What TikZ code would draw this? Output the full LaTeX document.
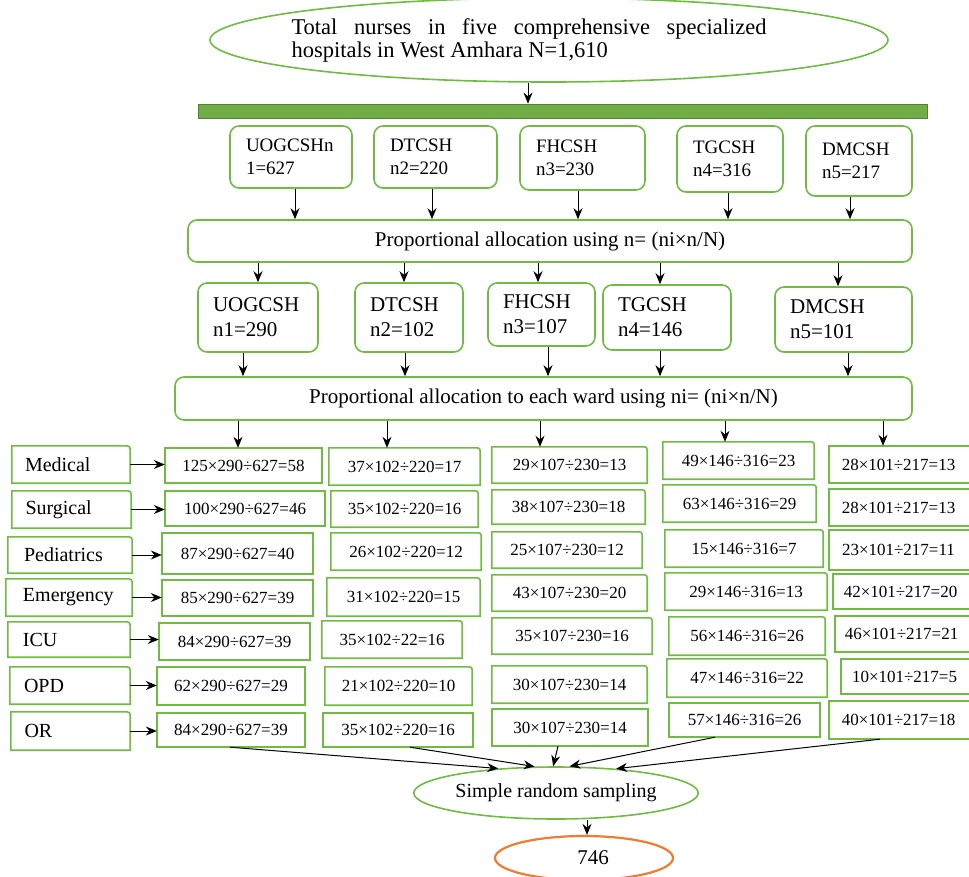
\documentclass[tikz,border=0pt]{standalone}
\usepackage{fontspec}
\setmainfont{Liberation Serif}
\usetikzlibrary{shapes.geometric,arrows.meta}
\definecolor{gbd}{RGB}{112,188,66}
\definecolor{barfill}{RGB}{112,173,71}
\definecolor{bardraw}{RGB}{84,130,53}
\definecolor{org}{RGB}{237,125,49}
\newcommand{\cbox}[8]{%
  \node[#8, minimum width={(#4-#2)*1pt}, minimum height={(#5-#3)*1pt}] (#1) at ({(#2+#4)/2},{(#3+#5)/2}) {#7};
  \draw[cellline] (#1.south west) -- (#1.north west) -- ([xshift=-#6pt]#1.north east) .. controls (#1.north east) .. ([yshift=-#6pt]#1.north east) -- (#1.south east) -- cycle;
}
\begin{document}
\begin{tikzpicture}[x=1pt,y=-1pt,
  cellline/.style={draw=gbd, line width=1.6pt},
  hbox/.style={draw=gbd, line width=1.6pt, rounded corners=9pt, align=left, inner xsep=16pt, inner ysep=0pt},
  rowone/.style={hbox, font=\fontsize{19pt}{23pt}\selectfont},
  rowtwo/.style={hbox, inner xsep=15pt, font=\fontsize{21pt}{25pt}\selectfont},
  propbox/.style={draw=gbd, line width=1.6pt, rounded corners=9pt, inner sep=0pt, font=\fontsize{21pt}{24pt}\selectfont},
  wlabel/.style={font=\fontsize{20pt}{22pt}\selectfont, text width=92pt, align=left, inner sep=0pt},
  calc/.style={font=\fontsize{17pt}{19pt}\selectfont, inner sep=0pt},
  oval/.style={ellipse, draw=gbd, line width=1.6pt, inner sep=0pt},
  arr/.style={-{Stealth[length=11pt,width=9pt]}, line width=1pt, black},
  bar/.style={draw=bardraw, fill=barfill, line width=0.8pt, inner sep=0pt}
]
\useasboundingbox (0,0) rectangle (969,876);

% top
\node[oval, minimum width=678pt, minimum height=84pt, font=\fontsize{22.5pt}{23pt}\selectfont] (top) at (549,40)
  {\makebox[0pt][c]{\parbox{475pt}{Total nurses in five comprehensive specialized\linebreak hospitals in West Amhara N=1,610}\hspace*{40pt}}};
\node[bar, minimum width=729pt, minimum height=14pt] (bar) at (562.5,111) {};
\draw[arr] (528,0 |- top.south) -- (528,0 |- bar.north);

% row 1
\node[rowone, text width=90pt, minimum height=62pt] (h1) at (291,157) {UOGCSHn\\1=627};
\node[rowone, text width=91pt, minimum height=62pt] (h2) at (435.5,157) {DTCSH\\n2=220};
\node[rowone, text width=93pt, minimum height=64pt] (h3) at (582.5,158) {FHCSH\\n3=230};
\node[rowone, text width=74pt, minimum height=66pt] (h4) at (730,159) {TGCSH\\n4=316};
\node[rowone, text width=74pt, minimum height=70pt] (h5) at (859,161) {DMCSH\\n5=217};

\node[propbox, minimum width=724pt, minimum height=42pt] (p1) at (550,241)
  {Proportional allocation using n= (ni×n/N)};

\draw[arr] (295,0 |- h1.south) -- (295,0 |- p1.north);
\draw[arr] (432,0 |- h2.south) -- (432,0 |- p1.north);
\draw[arr] (578,0 |- h3.south) -- (578,0 |- p1.north);
\draw[arr] (728,0 |- h4.south) -- (728,0 |- p1.north);
\draw[arr] (850,0 |- h5.south) -- (850,0 |- p1.north);

% row 2
\node[rowtwo, text width=90pt, minimum height=69pt] (r1) at (258,317.5) {UOGCSH\\n1=290};
\node[rowtwo, text width=78pt, minimum height=69pt] (r2) at (409,317.5) {DTCSH\\n2=102};
\node[rowtwo, text width=77pt, minimum height=63pt] (r3) at (541.5,314.5) {FHCSH\\n3=107};
\node[rowtwo, text width=98pt, minimum height=65pt] (r4) at (667,317.5) {TGCSH\\n4=146};
\node[rowtwo, text width=107pt, minimum height=65pt] (r5) at (843.5,319.5) {DMCSH\\n5=101};

\draw[arr] (258,0 |- p1.south) -- (258,0 |- r1.north);
\draw[arr] (404,0 |- p1.south) -- (404,0 |- r2.north);
\draw[arr] (538,0 |- p1.south) -- (538,0 |- r3.north);
\draw[arr] (660,0 |- p1.south) -- (660,0 |- r4.north);
\draw[arr] (838,0 |- p1.south) -- (838,0 |- r5.north);

\node[propbox, minimum width=737pt, minimum height=43pt] (p2) at (543.5,398.5)
  {Proportional allocation to each ward using ni= (ni×n/N)};

\draw[arr] (243,0 |- r1.south) -- (243,0 |- p2.north);
\draw[arr] (405,0 |- r2.south) -- (405,0 |- p2.north);
\draw[arr] (548,0 |- r3.south) -- (548,0 |- p2.north);
\draw[arr] (660,0 |- r4.south) -- (660,0 |- p2.north);
\draw[arr] (848,0 |- r5.south) -- (848,0 |- p2.north);

% ward labels
\cbox{w1}{12}{446}{130}{483}{7}{Medical}{wlabel}
\cbox{w2}{12}{491}{131}{528}{7}{Surgical}{wlabel}
\cbox{w3}{8}{537}{132}{573}{7}{Pediatrics}{wlabel}
\cbox{w4}{6}{579}{132}{616}{7}{Emergency}{wlabel}
\cbox{w5}{8}{622}{130}{657}{7}{ICU}{wlabel}
\cbox{w6}{10}{667}{130}{704}{7}{OPD}{wlabel}
\cbox{w7}{11}{712}{130}{750}{7}{OR}{wlabel}

% column 1
\cbox{c11}{165}{448}{322}{483}{0}{125×290÷627=58}{calc}
\cbox{c12}{165}{491}{325}{526}{0}{100×290÷627=46}{calc}
\cbox{c13}{162}{533}{313}{574}{0}{87×290÷627=40}{calc}
\cbox{c14}{162}{580}{313}{616}{0}{85×290÷627=39}{calc}
\cbox{c15}{159}{623}{310}{660}{0}{84×290÷627=39}{calc}
\cbox{c16}{157}{667}{305}{705}{0}{62×290÷627=29}{calc}
\cbox{c17}{157}{713}{305}{747}{0}{84×290÷627=39}{calc}
% column 2
\cbox{c21}{329}{448}{480}{485}{6}{37×102÷220=17}{calc}
\cbox{c22}{331}{491}{478}{527}{6}{35×102÷220=16}{calc}
\cbox{c23}{331}{533}{481}{570}{6}{26×102÷220=12}{calc}
\cbox{c24}{327}{578}{480}{616}{6}{31×102÷220=15}{calc}
\cbox{c25}{322}{621}{462}{658}{6}{35×102÷22=16}{calc}
\cbox{c26}{325}{667}{472}{705}{6}{21×102÷220=10}{calc}
\cbox{c27}{323}{713}{473}{747}{0}{35×102÷220=16}{calc}
% column 3
\cbox{c31}{492}{447}{647}{483}{6}{29×107÷230=13}{calc}
\cbox{c32}{492}{490}{645}{524}{6}{38×107÷230=18}{calc}
\cbox{c33}{492}{532}{642}{568}{6}{25×107÷230=12}{calc}
\cbox{c34}{492}{575}{647}{611}{6}{43×107÷230=20}{calc}
\cbox{c35}{492}{618}{652}{654}{6}{35×107÷230=16}{calc}
\cbox{c36}{492}{666}{647}{703}{6}{30×107÷230=14}{calc}
\cbox{c37}{492}{709}{648}{746}{0}{30×107÷230=14}{calc}
% column 4
\cbox{c41}{663}{442}{814}{479}{6}{49×146÷316=23}{calc}
\cbox{c42}{663}{485}{816}{522}{6}{63×146÷316=29}{calc}
\cbox{c43}{665}{530}{823}{567}{6}{15×146÷316=7}{calc}
\cbox{c44}{665}{573}{827}{610}{6}{29×146÷316=13}{calc}
\cbox{c45}{669}{617}{825}{655}{6}{56×146÷316=26}{calc}
\cbox{c46}{667}{659}{827}{697}{6}{47×146÷316=22}{calc}
\cbox{c47}{669}{703}{820}{737}{0}{57×146÷316=26}{calc}
% column 5
\cbox{c51}{829}{446}{1008}{483}{0}{\hspace*{-40pt}28×101÷217=13}{calc}
\cbox{c52}{829}{489}{1008}{526}{0}{\hspace*{-40pt}28×101÷217=13}{calc}
\cbox{c53}{829}{530}{1008}{570}{0}{\hspace*{-40pt}23×101÷217=11}{calc}
\cbox{c54}{833}{574}{1008}{609}{0}{\hspace*{-40pt}42×101÷217=20}{calc}
\cbox{c55}{835}{616}{1008}{652}{0}{\hspace*{-40pt}46×101÷217=21}{calc}
\cbox{c56}{841}{659}{1008}{694}{0}{\hspace*{-40pt}10×101÷217=5}{calc}
\cbox{c57}{829}{701}{1008}{739}{0}{\hspace*{-40pt}40×101÷217=18}{calc}

% arrows prop2 -> first calc row
\draw[arr] (238,0 |- p2.south) -- (238,0 |- c11.north);
\draw[arr] (387,0 |- p2.south) -- (387,0 |- c21.north);
\draw[arr] (540,0 |- p2.south) -- (540,0 |- c31.north);
\draw[arr] (725,0 |- p2.south) -- (725,0 |- c41.north);
\draw[arr] (883,0 |- p2.south) -- (883,0 |- c51.north);

% ward -> column 1
\foreach \i in {1,...,7}{
  \draw[arr] (w\i.east) -- (w\i.east -| c1\i.west);
}

% bottom
\node[oval, minimum width=272pt, minimum height=52pt, font=\fontsize{20pt}{22pt}\selectfont] (srs) at (556,793) {Simple random sampling};
\node[ellipse, draw=org, line width=2.2pt, minimum width=178pt, minimum height=44pt, inner sep=0pt,
      font=\fontsize{21pt}{23pt}\selectfont] (res) at (584,858) {\hspace*{18pt}746};

\draw[arr] (230,0 |- c17.south) -- (srs.157);
\draw[arr] (410,0 |- c27.south) -- (srs.129);
\draw[arr] (558,0 |- c37.south) -- (srs.96);
\draw[arr] (715,0 |- c47.south) -- (srs.63);
\draw[arr] (880,0 |- c57.south) -- (srs.22);
\draw[arr] (587,0 |- srs.south) -- (587,0 |- res.north);
\end{tikzpicture}
\end{document}
